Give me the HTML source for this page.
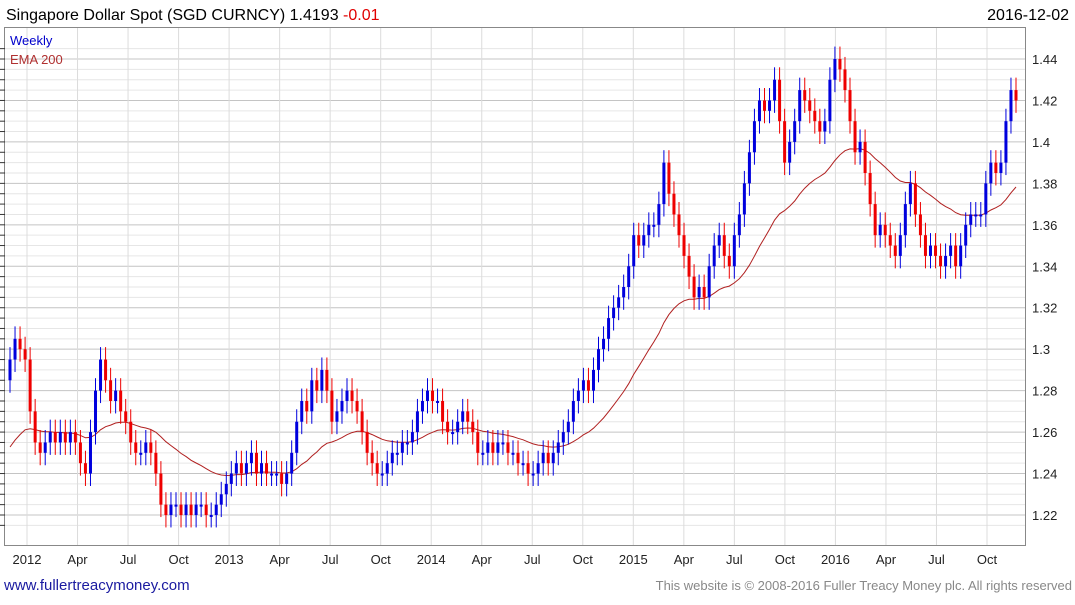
<!DOCTYPE html>
<html><head><meta charset="utf-8"><style>
body{margin:0;background:#fff;font-family:"Liberation Sans",sans-serif;}
svg text{font-family:"Liberation Sans",sans-serif;}
</style></head><body>
<svg id="c" width="1075" height="600" xmlns="http://www.w3.org/2000/svg">
<text x="6" y="20" font-size="16" fill="#000">Singapore Dollar Spot (SGD CURNCY) 1.4193 <tspan fill="#e00000">-0.01</tspan></text>
<text x="1069" y="20" font-size="16" text-anchor="end" fill="#000">2016-12-02</text>
<g id="grid"></g>
<g id="ema"></g>
<g id="candles"></g>
<rect x="4.5" y="27.5" width="1021" height="518" fill="none" stroke="#888"/>
<text x="10" y="45" font-size="13" fill="#0000cc">Weekly</text>
<text x="10" y="64" font-size="13" fill="#b03030">EMA 200</text>
<g id="yax"></g>
<g id="xax"></g>
<text x="4" y="590" font-size="15" fill="#1a1aa0">www.fullertreacymoney.com</text>
<text x="1072" y="590" font-size="13" text-anchor="end" fill="#888">This website is © 2008-2016 Fuller Treacy Money plc. All rights reserved</text>
</svg>
<script>
const closes=[1.295,1.305,1.30,1.295,1.27,1.255,1.25,1.255,1.26,1.255,1.26,1.255,1.26,1.255,1.245,1.24,1.26,1.28,1.295,1.285,1.275,1.28,1.27,1.265,1.255,1.25,1.25,1.255,1.25,1.24,1.225,1.22,1.225,1.225,1.22,1.225,1.22,1.225,1.225,1.22,1.22,1.225,1.23,1.235,1.24,1.245,1.24,1.245,1.25,1.24,1.245,1.24,1.24,1.24,1.235,1.24,1.25,1.265,1.275,1.27,1.285,1.28,1.29,1.28,1.265,1.27,1.275,1.28,1.275,1.27,1.26,1.25,1.245,1.24,1.24,1.245,1.25,1.25,1.255,1.255,1.26,1.27,1.275,1.28,1.275,1.275,1.265,1.26,1.26,1.265,1.27,1.265,1.26,1.25,1.25,1.255,1.25,1.255,1.255,1.25,1.25,1.245,1.245,1.24,1.24,1.245,1.25,1.245,1.25,1.255,1.26,1.265,1.275,1.28,1.285,1.28,1.29,1.30,1.305,1.315,1.32,1.325,1.33,1.34,1.355,1.35,1.355,1.36,1.36,1.37,1.39,1.375,1.365,1.355,1.345,1.335,1.325,1.33,1.325,1.34,1.35,1.355,1.345,1.34,1.355,1.365,1.38,1.395,1.41,1.42,1.415,1.42,1.43,1.41,1.39,1.40,1.41,1.425,1.42,1.415,1.41,1.405,1.41,1.43,1.44,1.435,1.425,1.41,1.395,1.40,1.385,1.37,1.355,1.36,1.355,1.35,1.345,1.355,1.37,1.38,1.365,1.355,1.345,1.35,1.345,1.34,1.345,1.35,1.34,1.35,1.36,1.365,1.365,1.365,1.38,1.39,1.385,1.39,1.41,1.425,1.42];
const firstOpen=1.285;
const emaSeed=1.25;
const emaPeriod=31;
const yTicks=[1.22,1.24,1.26,1.28,1.30,1.32,1.34,1.36,1.38,1.40,1.42,1.44];
const yTickLabels=["1.22","1.24","1.26","1.28","1.3","1.32","1.34","1.36","1.38","1.4","1.42","1.44"];
const xTickLabels=["2012","Apr","Jul","Oct","2013","Apr","Jul","Oct","2014","Apr","Jul","Oct","2015","Apr","Jul","Oct","2016","Apr","Jul","Oct"];
const xTickMonths=[0,3,6,9,12,15,18,21,24,27,30,33,36,39,42,45,48,51,54,57];

const NS="http://www.w3.org/2000/svg";
function y(p){return 59+(1.44-p)*2072.7;}
function xi(i){return 10+i*(1016-10)/(closes.length-1);}
function xm(m){return 27+m*(987-27)/57;}
function mk(t,a,parent){const e=document.createElementNS(NS,t);for(const k in a)e.setAttribute(k,a[k]);parent.appendChild(e);return e;}
const grid=document.getElementById('grid'),yax=document.getElementById('yax'),xax=document.getElementById('xax');
for(let p=1.215;p<=1.4451;p+=0.005){
  const major=Math.abs(Math.round(p*50)-p*50)<1e-6;
  const l=mk('line',{x1:5,x2:1025,y1:y(p),y2:y(p),stroke:major?'#c4c4c4':'#e6e6e6','stroke-width':1},grid);
  
  
  const t=mk('line',{x1:0,x2:5,y1:y(p),y2:y(p),stroke:'#333'},yax);
  
  
}
yTicks.forEach((v,i)=>{
  const t=mk('text',{x:1032,y:y(v)+5,'font-size':13,fill:'#222'},yax);t.textContent=yTickLabels[i];
  
  
});
xTickMonths.forEach((m,i)=>{
  const l=mk('line',{x1:xm(m),x2:xm(m),y1:28,y2:545,stroke:'#dcdcdc'},grid);
  
  
  const t=mk('text',{x:xm(m),y:564,'font-size':13,'text-anchor':'middle',fill:'#222'},xax);t.textContent=xTickLabels[i];
  
  
});
let e=emaSeed,pts=[];const a=2/(emaPeriod+1);
closes.forEach((c,i)=>{e=e+a*(c-e);pts.push(xi(i).toFixed(1)+','+y(e).toFixed(1));});
const pl=mk('polyline',{points:pts.join(' '),fill:'none',stroke:'#b02020','stroke-width':1},document.getElementById('ema'));


const cg=document.getElementById('candles');
closes.forEach((c,i)=>{
  const o=i?closes[i-1]:firstOpen;const col=c>=o?'#0000dd':'#ee0000';
  const hi=Math.max(o,c)+0.006,lo=Math.min(o,c)-0.006;const x=xi(i);
  const w=mk('line',{x1:x,x2:x,y1:y(hi),y2:y(lo),stroke:col,'stroke-width':1},cg);
  
  
  const h=Math.max(2,Math.abs(y(o)-y(c)));
  const r=mk('rect',{x:x-1.5,y:Math.min(y(o),y(c)),width:3,height:h,fill:col},cg);
  
  
});
</script>
</body></html>
